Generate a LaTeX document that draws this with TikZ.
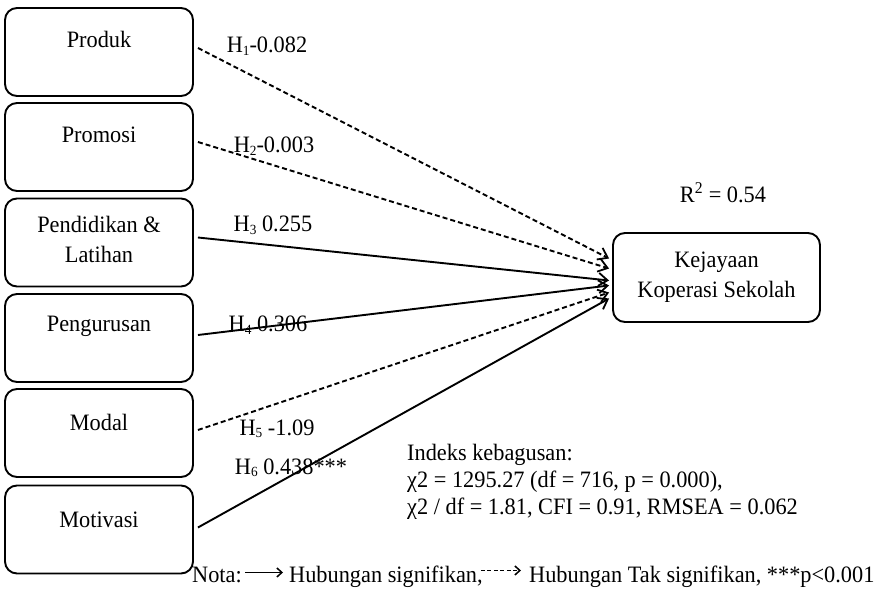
\documentclass[tikz,border=0pt]{standalone}
\usepackage{fontspec}
\setmainfont[FakeStretch=0.95]{Liberation Serif}
\usetikzlibrary{arrows.meta,calc}
\newcommand{\sbs}[1]{\raisebox{-2.5pt}{\fontsize{14}{14}\selectfont #1}}
\begin{document}
\begin{tikzpicture}[x=1pt,y=-1pt,
  box/.style={draw,line width=1.9pt,rounded corners=12pt,minimum width=188pt,minimum height=88pt,inner sep=0pt},
  txt/.style={font=\fontsize{23.5}{30}\selectfont,inner sep=0pt,align=center},
  sig/.style={line width=1.9pt,-{Straight Barb[length=9pt,width=13pt,line width=1.8pt]}},
  nsig/.style={sig,dash pattern=on 5pt off 3pt},
  legsig/.style={line width=1.5pt,-{Straight Barb[length=5pt,width=9pt,line width=1.5pt]}},
  legnsig/.style={legsig,dash pattern=on 4pt off 2.5pt},
]
\useasboundingbox (0,0) rectangle (878,593);
% left boxes
\node[box] (b1) at (99,52) {};
\node[box] (b2) at (99,147) {};
\node[box] (b3) at (99,242.5) {};
\node[box] (b4) at (99,338) {};
\node[box] (b5) at (99,433) {};
\node[box] (b6) at (99,529.5) {};
\node[txt,anchor=base] (t1) at (99,48) {Produk};
\node[txt,anchor=base] (t2) at (99,143) {Promosi};
\node[txt,anchor=base] (t3a) at (99,233) {Pendidikan \&};
\node[txt,anchor=base] (t3b) at (99,263) {Latihan};
\node[txt,anchor=base] (t4) at (99,332) {Pengurusan};
\node[txt,anchor=base] (t5) at (99,430) {Modal};
\node[txt,anchor=base] (t6) at (99,527) {Motivasi};
% target
\node[box,minimum width=207pt,minimum height=89pt,txt] (K) at (716.5,277.5) {Kejayaan\\Koperasi Sekolah};
\node[txt,anchor=base] (R) at (723,203) {R\textsuperscript{2} = 0.54};
% connectors
\draw[nsig] ([xshift=4pt,yshift=4pt]b1.east) -- ([xshift=-3pt,yshift=19pt]K.west);
\draw[nsig] ([xshift=4pt,yshift=5pt]b2.east) -- ([xshift=-3pt,yshift=9pt]K.west);
\draw[sig]  ([xshift=4pt,yshift=5pt]b3.east) -- ([xshift=-3pt,yshift=-3pt]K.west);
\draw[sig]  ([xshift=4pt,yshift=3pt]b4.east) -- ([xshift=-3pt,yshift=-8pt]K.west);
\draw[nsig] ([xshift=4pt,yshift=3pt]b5.east) -- ([xshift=-3pt,yshift=-15pt]K.west);
\draw[sig]  ([xshift=4pt,yshift=2pt]b6.east) -- ([xshift=-3pt,yshift=-21pt]K.west);
% path labels
\node[txt,anchor=base] (h1) at (267,53) {H\sbs{1}-0.082};
\node[txt,anchor=base] (h2) at (274,153) {H\sbs{2}-0.003};
\node[txt,anchor=base] (h3) at (273,232) {H\sbs{3} 0.255};
\node[txt,anchor=base] (h4) at (268,332) {H\sbs{4} 0.306};
\node[txt,anchor=base] (h5) at (277,435) {H\sbs{5} -1.09};
\node[txt,anchor=base] (h6) at (291,474) {H\sbs{6} 0.438***};
% fit indices
\node[txt,anchor=base west] (i1) at (407,460) {Indeks kebagusan:};
\node[txt,anchor=base west] (i2) at (407,487) {χ2 = 1295.27 (df = 716, p = 0.000),};
\node[txt,anchor=base west] (i3) at (407,514) {χ2 / df = 1.81, CFI = 0.91, RMSEA = 0.062};
% legend
\node[txt,anchor=base west] (nota) at (192,582) {Nota:};
\node[txt,anchor=base west] (hs) at (289,582) {Hubungan signifikan,};
\node[txt,anchor=base west] (ht) at (529,582) {Hubungan Tak signifikan, ***p<0.001};
\coordinate (a1) at ([xshift=3pt,yshift=2pt]nota.east);
\draw[legsig] (a1) -- ($(hs.west |- a1)+(-6,0)$);
\coordinate (a2) at ([xshift=-2pt]hs.east |- a1);
\draw[legnsig] ($(a2)+(0,-2)$) -- ($(ht.west |- a2)+(-8,-2)$);
\end{tikzpicture}
\end{document}
